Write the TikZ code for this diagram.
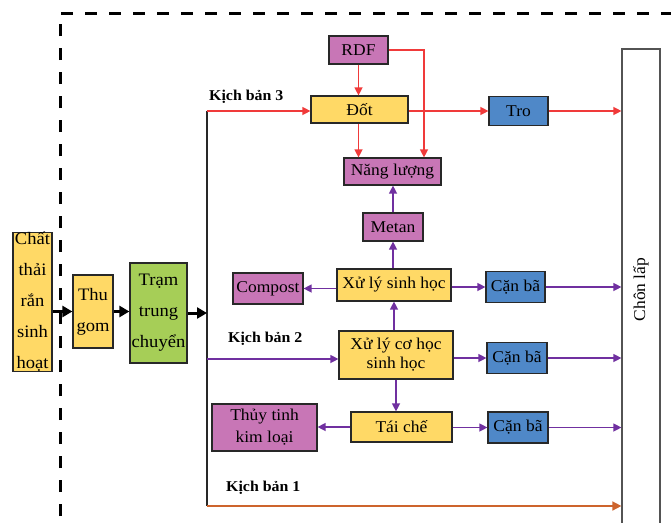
\documentclass[tikz,border=0pt]{standalone}
\usepackage{fontspec}
\setmainfont[FakeStretch=1.06]{Liberation Serif}
\usetikzlibrary{arrows.meta,calc}

\definecolor{boxyellow}{RGB}{255,217,102}
\definecolor{boxpurple}{RGB}{200,118,182}
\definecolor{boxblue}{RGB}{79,136,200}
\definecolor{boxgreen}{RGB}{166,206,87}
\definecolor{flowred}{RGB}{240,58,58}
\definecolor{flowpurple}{RGB}{112,48,160}
\definecolor{floworange}{RGB}{205,100,45}
\definecolor{edgegray}{RGB}{40,40,40}

\tikzset{
  blk/.style={draw=edgegray, line width=1.2pt, inner sep=0pt, align=center,
    font=\fontsize{16.5}{19}\selectfont},
  ybox/.style={blk, fill=boxyellow},
  pbox/.style={blk, fill=boxpurple},
  bbox/.style={blk, fill=boxblue},
  gbox/.style={blk, fill=boxgreen},
  tall/.style={font=\fontsize{17.5}{31}\selectfont},
  scen/.style={font=\fontsize{15}{17}\selectfont\bfseries, inner sep=0pt, anchor=west},
  redarr/.style={draw=flowred, line width=1.3pt, -{Triangle[length=8pt,width=8pt]}},
  purarr/.style={draw=flowpurple, line width=1.3pt, -{Triangle[length=8pt,width=8pt]}},
  orarr/.style={draw=floworange, line width=1.5pt, -{Triangle[length=9pt,width=9pt]}},
  blkarr/.style={draw=black, line width=3pt, -{Triangle[length=10pt,width=11pt]}},
}

\begin{document}
\begin{tikzpicture}[x=1pt,y=-1pt]
\useasboundingbox (0,0) rectangle (671,522);
\clip (0,0) rectangle (671,522);

% outer dashed frame
\draw[line width=3pt, dash pattern=on 12pt off 12pt] (60,540) -- (60,13) -- (690,13);

% landfill column
\node[draw=edgegray!80, line width=1.2pt, minimum width=38pt, minimum height=481pt, inner sep=0pt]
  (chon) at (641,289.5) {\rotatebox{90}{\fontsize{16.5}{19}\selectfont Chôn lấp}};

% collection chain
\node[ybox, tall, minimum width=39pt, minimum height=132pt]
  (chat) at (32.5,302) {Chất\\thải\\rắn\\sinh\\hoạt};
\node[ybox, tall, minimum width=40pt, minimum height=73pt]
  (thu) at (93,311.5) {Thu\\gom};
\node[gbox, tall, minimum width=57pt, minimum height=100pt]
  (tram) at (158.5,313) {Trạm\\trung\\chuyển};

% scenario 3
\node[pbox, minimum width=59pt, minimum height=28pt] (rdf) at (358.5,50) {RDF};
\node[ybox, minimum width=97pt, minimum height=27pt] (dot) at (359.5,109.5) {Đốt};
\node[bbox, minimum width=59pt, minimum height=29pt] (tro) at (518.5,111) {Tro};
\node[pbox, minimum width=97pt, minimum height=27pt] (nl) at (392.5,171.5) {Năng lượng};

% scenario 2
\node[pbox, minimum width=60pt, minimum height=28pt] (metan) at (393,227) {Metan};
\node[ybox, minimum width=114pt, minimum height=32pt] (xlsh) at (394,285) {Xử lý sinh học};
\node[pbox, minimum width=70pt, minimum height=31pt] (compost) at (268,288.5) {Compost};
\node[bbox, minimum width=59pt, minimum height=31pt] (can1) at (515.5,287) {Cặn bã};
\node[ybox, minimum width=114pt, minimum height=48pt] (xlch) at (396,355) {Xử lý cơ học\\sinh học};
\node[bbox, minimum width=60pt, minimum height=31pt] (can2) at (517,358) {Cặn bã};

% recycling
\node[ybox, minimum width=101pt, minimum height=30pt] (taiche) at (401.5,427) {Tái chế};
\node[pbox, minimum width=105pt, minimum height=47pt, font=\fontsize{16.5}{22}\selectfont]
  (thuy) at (264.5,427.5) {Thủy tinh\\kim loại};
\node[bbox, minimum width=60pt, minimum height=31pt] (can3) at (518,427.5) {Cặn bã};

% scenario labels
\node[scen] (kb3) at (209,97) {Kịch bản 3};
\node[scen] (kb2) at (228,339) {Kịch bản 2};
\node[scen] (kb1) at (226,488) {Kịch bản 1};

% distribution trunk
\coordinate (trTop) at (207,111);
\coordinate (trMid) at (207,313);
\coordinate (trK2) at (207,359);
\coordinate (trBot) at (207,506);
\coordinate (rdfR) at (424,50);
\draw[line width=1.2pt, edgegray] (trTop) -- (trBot);

% black main flow
\draw[blkarr] (chat.east |- thu) -- (thu.west);
\draw[blkarr] (thu.east) -- (thu.east -| tram.west);
\draw[blkarr] (tram.east |- trMid) -- (trMid);

% scenario 3 flows
\draw[redarr] (trTop) -- (trTop -| dot.west);
\draw[redarr] (rdf.south) -- (rdf.south |- dot.north);
\draw[redarr] (dot.south -| rdf) -- (rdf |- nl.north);
\draw[redarr] (rdf.east) -- (rdfR) -- (rdfR |- nl.north);
\draw[redarr] (dot.east |- tro) -- (tro.west);
\draw[redarr] (tro.east) -- (tro.east -| chon.west);

% scenario 2 flows
\draw[purarr] (trK2) -- (trK2 -| xlch.west);
\draw[purarr] (xlsh.south |- xlch.north) -- (xlsh.south);
\draw[purarr] (xlsh.north -| metan) -- (metan.south);
\draw[purarr] (metan.north) -- (metan.north |- nl.south);
\draw[purarr] (xlsh.west |- compost) -- (compost.east);
\draw[purarr] (xlsh.east |- can1) -- (can1.west);
\draw[purarr] (can1.east) -- (can1.east -| chon.west);
\draw[purarr] (xlch.east |- can2) -- (can2.west);
\draw[purarr] (can2.east) -- (can2.east -| chon.west);

% recycling flows
\draw[purarr] (xlch.south) -- (xlch.south |- taiche.north);
\draw[purarr] (taiche.west) -- (taiche.west -| thuy.east);
\draw[purarr] (taiche.east |- can3) -- (can3.west);
\draw[purarr] (can3.east) -- (can3.east -| chon.west);

% scenario 1 flow
\draw[orarr] (trBot) -- (trBot -| chon.west);
\end{tikzpicture}
\end{document}
